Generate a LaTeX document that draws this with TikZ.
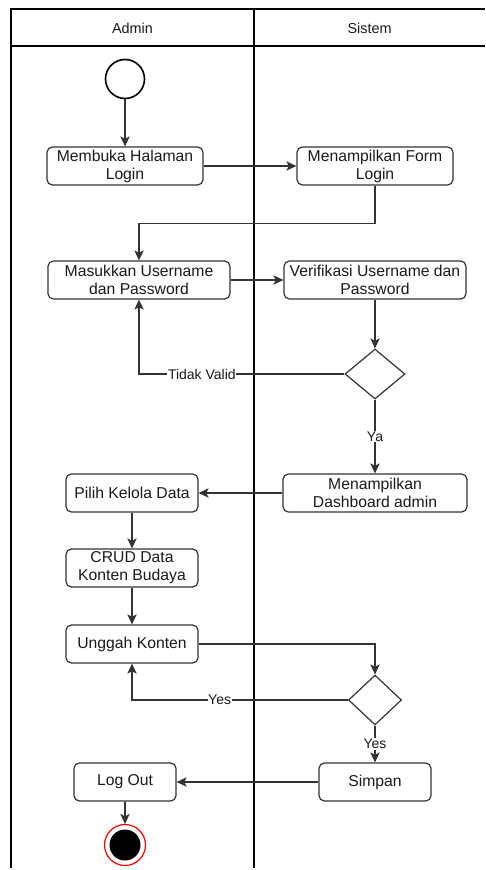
\documentclass[tikz,border=0pt]{standalone}
\usepackage{fontspec}
\setmainfont{Liberation Sans}
\usetikzlibrary{arrows.meta,shapes.geometric}
\definecolor{bd}{HTML}{333333}
\definecolor{tx}{HTML}{1A1A1A}
\begin{document}
\begin{tikzpicture}[x=0.75pt,y=-0.75pt,
  act/.style={draw=bd,line width=0.9pt,rounded corners=4pt,align=center,inner sep=0pt,
    font=\fontsize{11.8pt}{13.6pt}\selectfont,text=tx,minimum height=38*0.75pt},
  dec/.style={draw=bd,line width=0.9pt,diamond,inner sep=0pt},
  lane/.style={line width=1.1pt,black},
  arr/.style={line width=0.85pt,bd,-{Stealth[length=7.5pt,width=7pt,inset=1.8pt]}},
  lbl/.style={fill=white,inner sep=0.5pt,font=\fontsize{10.5pt}{12pt}\selectfont,text=tx},
  hdr/.style={font=\fontsize{10.8pt}{13pt}\selectfont,text=tx}]
\useasboundingbox (0,0) rectangle (485,870);
% swimlanes
\draw[lane] (485,9) -- (11,9) -- (11,868);
\draw[lane] (11,46) -- (485,46);
\draw[lane] (254,9) -- (254,868);
\node[hdr] (hA) at (132.5,28) {Admin};
\node[hdr] (hS) at (369.5,28) {Sistem};
% nodes
\node[draw=black,line width=1.2pt,circle,minimum size=39*0.75pt,inner sep=0pt] (start) at (125,79) {};
\node[act,minimum width=156*0.75pt] (buka) at (125,166) {Membuka Halaman\\Login};
\node[act,minimum width=156*0.75pt] (form) at (375,166) {Menampilkan Form\\Login};
\node[act,minimum width=182*0.75pt] (masuk) at (139,280) {Masukkan Username\\dan Password};
\node[act,minimum width=182*0.75pt] (verif) at (375,280) {Verifikasi Username dan\\Password};
\node[dec,minimum width=60*0.75pt,minimum height=50*0.75pt] (d1) at (375,374) {};
\node[act,minimum width=184*0.75pt] (dash) at (375,493) {Menampilkan\\Dashboard admin};
\node[act,minimum width=132*0.75pt] (pilih) at (132,493) {Pilih Kelola Data};
\node[act,minimum width=132*0.75pt] (crud) at (132,568) {CRUD Data\\Konten Budaya};
\node[act,minimum width=132*0.75pt] (unggah) at (132,644) {Unggah Konten};
\node[dec,minimum width=53*0.75pt,minimum height=50*0.75pt] (d2) at (375,700) {};
\node[act,minimum width=112*0.75pt] (simpan) at (375,782) {Simpan};
\node[act,minimum width=102*0.75pt] (logout) at (125,782) {Log Out};
\node[draw=red,line width=0.9pt,circle,minimum size=41*0.75pt,inner sep=0pt] (end) at (125,845) {};
\node[fill=black,circle,minimum size=31*0.75pt,inner sep=0pt] (endin) at (125,845) {};
% connectors
\draw[arr] (start) -- (buka);
\draw[arr] (buka) -- (form);
\draw[arr] (form.south) -- ++(0,38) -| (masuk.north);
\draw[arr] (masuk) -- (verif);
\draw[arr] (verif.south) -- (d1.north);
\draw[arr] (d1.west) -| node[lbl,pos=0.347] {Tidak Valid} (masuk.south);
\draw[arr] (d1.south) -- node[lbl] {Ya} (dash.north);
\draw[arr] (dash) -- (pilih);
\draw[arr] (pilih) -- (crud);
\draw[arr] (crud) -- (unggah);
\draw[arr] (unggah.east) -| (d2.north);
\draw[arr] (d2.west) -| node[lbl,pos=0.297] {Yes} (unggah.south);
\draw[arr] (d2.south) -- node[lbl] {Yes} (simpan.north);
\draw[arr] (simpan) -- (logout);
\draw[arr] (logout.south) -- (end.north);
\end{tikzpicture}
\end{document}
